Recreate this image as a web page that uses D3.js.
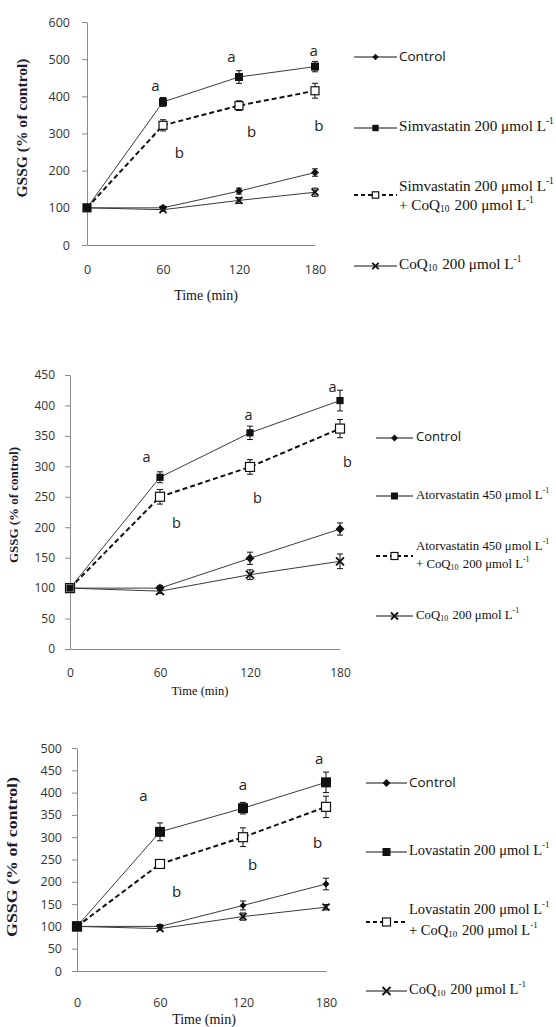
<!DOCTYPE html>
<html>
<head>
<meta charset="utf-8">
<script src="https://cdn.jsdelivr.net/npm/d3@7"></script>
<style>
  body { margin: 0; background: #fff; }
  svg { display: block; }
</style>
</head>
<body>
<svg width="556" height="1027"></svg>
<script>
// time points (min) shared by all three panels
const timePoints = [0, 60, 120, 180];

// simvastatin panel
const simTicks = [0, 100, 200, 300, 400, 500, 600];
const simControl = [100, 100, 145, 195];
const simControlErr = [0, 4, 8, 10];
const simDrug = [100, 385, 452, 480];
const simDrugErr = [0, 12, 17, 14];
const simCombo = [100, 322, 375, 415];
const simComboErr = [0, 15, 13, 20];
const simCoq = [100, 95, 120, 142];
const simCoqErr = [0, 4, 8, 11];
const simLetters = [[54, 425, 'a'], [114, 503, 'a'], [179, 519, 'a'], [73, 245, 'b'], [130, 301, 'b'], [183, 317, 'b']];

// atorvastatin panel
const atorTicks = [0, 50, 100, 150, 200, 250, 300, 350, 400, 450];
const atorControl = [100, 100, 149, 197];
const atorControlErr = [0, 4, 10, 10];
const atorDrug = [100, 282, 355, 408];
const atorDrugErr = [0, 9, 11, 17];
const atorCombo = [100, 250, 299, 362];
const atorComboErr = [0, 12, 12, 15];
const atorCoq = [100, 95, 122, 144];
const atorCoqErr = [0, 4, 8, 12];
const atorLetters = [[51, 314, 'a'], [119, 383, 'a'], [175, 428, 'a'], [71, 205, 'b'], [125, 246, 'b'], [185, 305, 'b']];

// lovastatin panel
const lovaTicks = [0, 50, 100, 150, 200, 250, 300, 350, 400, 450, 500];
const lovaControl = [100, 100, 147, 195];
const lovaControlErr = [0, 4, 10, 13];
const lovaDrug = [100, 312, 365, 423];
const lovaDrugErr = [0, 20, 13, 23];
const lovaCombo = [100, 240, 300, 368];
const lovaComboErr = [0, 5, 21, 24];
const lovaCoq = [100, 95, 122, 143];
const lovaCoqErr = [0, 4, 8, 6];
const lovaLetters = [[48, 390, 'a'], [120, 415, 'a'], [175, 473, 'a'], [72, 175, 'b'], [127, 235, 'b'], [174, 285, 'b']];

const svg = d3.select('svg');
svg.append('rect').attr('width', 556).attr('height', 1027).attr('fill', '#fff');

const sansFont = '"Open Sans", sans-serif';
const serifFont = '"Liberation Serif", "Times New Roman", serif';

// "CoQ_{10} 200 μmol L^{-1}" -> text with sub/superscripts
function richText(sel, str, size) {
    const parts = str.split(/(_\{[^}]*\}|\^\{[^}]*\})/).filter(s => s.length);
    parts.forEach(p => {
        if (p.startsWith('_{')) {
            sel.append('tspan').attr('font-size', size * 0.62).attr('dy', size * 0.2).text(p.slice(2, -1));
            sel.append('tspan').attr('font-size', size).attr('dy', -size * 0.2).text('\u200a');
        } else if (p.startsWith('^{')) {
            sel.append('tspan').attr('font-size', size * 0.62).attr('dy', -size * 0.38).text(p.slice(2, -1));
            sel.append('tspan').attr('font-size', size).attr('dy', size * 0.38).text('');
        } else {
            sel.append('tspan').text(p);
        }
    });
}

function marker(g, kind, cx, cy, s) {
    if (kind === 'diamond') {
        g.append('path')
            .attr('d', `M${cx},${cy - s}L${cx + s},${cy}L${cx},${cy + s}L${cx - s},${cy}Z`)
            .attr('fill', '#111');
    } else if (kind === 'square') {
        g.append('rect')
            .attr('x', cx - s).attr('y', cy - s).attr('width', 2 * s).attr('height', 2 * s)
            .attr('fill', '#111');
    } else if (kind === 'open') {
        g.append('rect')
            .attr('x', cx - s).attr('y', cy - s).attr('width', 2 * s).attr('height', 2 * s)
            .attr('fill', '#fff').attr('stroke', '#111').attr('stroke-width', 1.2);
    } else {
        g.append('path')
            .attr('d', `M${cx - s},${cy - s}L${cx + s},${cy + s}M${cx - s},${cy + s}L${cx + s},${cy - s}`)
            .attr('stroke', '#111').attr('stroke-width', 1.8);
    }
}

function drawPanel(cfg) {
    const x = d3.scaleLinear().domain([0, 180]).range([cfg.left, cfg.right]);
    const y = d3.scaleLinear().domain([0, d3.max(cfg.ticks)]).range([cfg.bottom, cfg.top]);
    const g = svg.append('g');

    const yAxis = g.append('g')
        .attr('transform', `translate(${cfg.left},0)`)
        .call(d3.axisLeft(y).tickValues(cfg.ticks).tickSize(5).tickSizeOuter(0).tickPadding(cfg.yPad));
    const xAxis = g.append('g')
        .attr('transform', `translate(0,${cfg.bottom})`)
        .call(d3.axisBottom(x).tickValues(timePoints).tickSize(0).tickSizeOuter(0).tickPadding(cfg.xPad));
    [yAxis, xAxis].forEach(a => {
        a.selectAll('path, line').attr('stroke', '#8a8a8a');
        a.selectAll('text')
            .attr('font-family', sansFont)
            .attr('font-size', cfg.tickSize)
            .attr('fill', '#333');
    });

    g.append('text')
        .attr('transform', `translate(${cfg.yTitle[0]},${cfg.yTitle[1]}) rotate(-90)`)
        .attr('text-anchor', 'middle')
        .attr('dominant-baseline', 'middle')
        .attr('font-family', serifFont)
        .attr('font-weight', 'bold')
        .attr('font-size', cfg.yTitleSize)
        .attr('fill', '#1c1a2e')
        .attr('textLength', cfg.yTitle[2])
        .attr('lengthAdjust', 'spacingAndGlyphs')
        .text('GSSG (% of control)');

    g.append('text')
        .attr('x', cfg.xTitle[0]).attr('y', cfg.xTitle[1])
        .attr('text-anchor', 'middle')
        .attr('dominant-baseline', 'middle')
        .attr('font-family', serifFont)
        .attr('font-size', cfg.xTitleSize)
        .attr('fill', '#111')
        .text('Time (min)');

    const line = d3.line().x((d, i) => x(timePoints[i])).y(d => y(d));

    // draw order: control, CoQ, combo, drug
    const order = [cfg.series[0], cfg.series[3], cfg.series[2], cfg.series[1]];
    order.forEach(s => {
        const sg = g.append('g');
        sg.append('path')
            .attr('d', line(s.values))
            .attr('fill', 'none')
            .attr('stroke', s.dashed ? '#111' : '#3a3a3a')
            .attr('stroke-width', s.dashed ? 2 : 1)
            .attr('stroke-dasharray', s.dashed ? '5,3' : null);
        s.values.forEach((v, i) => {
            const e = s.errs[i];
            if (e > 0) {
                const cx = x(timePoints[i]);
                sg.append('path')
                    .attr('d', `M${cx},${y(v + e)}V${y(v - e)}M${cx - 3},${y(v + e)}H${cx + 3}M${cx - 3},${y(v - e)}H${cx + 3}`)
                    .attr('stroke', '#111').attr('stroke-width', 1).attr('fill', 'none');
            }
        });
        s.values.forEach((v, i) => marker(sg, s.marker, x(timePoints[i]), y(v), s.size));
    });

    g.selectAll('text.letter')
        .data(cfg.letters)
        .join('text')
        .attr('class', 'letter')
        .attr('x', d => x(d[0]))
        .attr('y', d => y(d[1]))
        .attr('text-anchor', 'middle')
        .attr('dominant-baseline', 'middle')
        .attr('font-family', sansFont)
        .attr('font-size', cfg.letterSize)
        .attr('fill', '#222')
        .text(d => d[2]);

    // legend
    const lg = g.append('g');
    const L = cfg.legend;
    cfg.series.forEach((s, k) => {
        const row = L.rows[k];
        const ly = row[0];
        lg.append('line')
            .attr('x1', L.x1).attr('x2', L.x2).attr('y1', ly).attr('y2', ly)
            .attr('stroke', '#111')
            .attr('stroke-width', s.dashed ? 2 : 1)
            .attr('stroke-dasharray', s.dashed ? '4,3' : null);
        marker(lg, s.marker, (L.x1 + L.x2) / 2, ly, L.msize);
        s.label.forEach((lab, j) => {
            const t = lg.append('text')
                .attr('x', L.tx)
                .attr('y', row[1 + j])
                .attr('dominant-baseline', 'middle')
                .attr('fill', '#111');
            if (k === 0) {
                t.attr('font-family', sansFont).attr('font-size', L.sansSize).text(lab);
            } else {
                t.attr('font-family', serifFont).attr('font-size', L.serifSize);
                richText(t, lab, L.serifSize);
            }
        });
    });
}

function seriesFor(ctrl, ctrlErr, drug, drugErr, combo, comboErr, coq, coqErr, drugLabel, sizes) {
    return [
        { values: ctrl, errs: ctrlErr, marker: 'diamond', size: sizes[0], label: ['Control'] },
        { values: drug, errs: drugErr, marker: 'square', size: sizes[1], label: [drugLabel] },
        { values: combo, errs: comboErr, marker: 'open', size: sizes[2], dashed: true,
          label: [drugLabel, '+ CoQ_{10} 200 μmol L^{-1}'] },
        { values: coq, errs: coqErr, marker: 'x', size: sizes[3], label: ['CoQ_{10} 200 μmol L^{-1}'] }
    ];
}

drawPanel({
    left: 87, right: 315, top: 22, bottom: 245, ticks: simTicks,
    yPad: 12, xPad: 20, tickSize: 12.5,
    yTitle: [24, 128, 139], yTitleSize: 14,
    xTitle: [206, 297], xTitleSize: 14,
    letterSize: 15,
    letters: simLetters,
    series: seriesFor(simControl, simControlErr, simDrug, simDrugErr, simCombo, simComboErr, simCoq, simCoqErr,
        'Simvastatin 200 μmol L^{-1}', [4, 4, 4, 3.5]),
    legend: { x1: 354, x2: 397, tx: 399, msize: 3.2, sansSize: 13.5, serifSize: 15.2,
        rows: [[57, 57], [128, 128], [195, 188, 207], [266, 266]] }
});

drawPanel({
    left: 70, right: 340, top: 375, bottom: 649, ticks: atorTicks,
    yPad: 10, xPad: 19, tickSize: 12,
    yTitle: [15, 505, 116], yTitleSize: 12,
    xTitle: [200, 692], xTitleSize: 12.5,
    letterSize: 14.5,
    letters: atorLetters,
    series: seriesFor(atorControl, atorControlErr, atorDrug, atorDrugErr, atorCombo, atorComboErr, atorCoq, atorCoqErr,
        'Atorvastatin 450 μmol L^{-1}', [4.5, 3.6, 4.5, 4]),
    legend: { x1: 376, x2: 413, tx: 416, msize: 3.5, sansSize: 13, serifSize: 12.8,
        rows: [[438, 438], [496, 496], [556, 547, 565], [616, 616]] }
});

drawPanel({
    left: 77, right: 326, top: 748, bottom: 971, ticks: lovaTicks,
    yPad: 10, xPad: 27, tickSize: 12.5,
    yTitle: [14, 857, 160], yTitleSize: 15,
    xTitle: [204, 1021], xTitleSize: 14,
    letterSize: 15,
    letters: lovaLetters,
    series: seriesFor(lovaControl, lovaControlErr, lovaDrug, lovaDrugErr, lovaCombo, lovaComboErr, lovaCoq, lovaCoqErr,
        'Lovastatin 200 μmol L^{-1}', [3.5, 5, 4.5, 3.5]),
    legend: { x1: 366, x2: 407, tx: 409, msize: 4, sansSize: 13.5, serifSize: 14.5,
        rows: [[783, 783], [852, 852], [922, 911, 932], [991, 991]] }
});
</script>
</body>
</html>
